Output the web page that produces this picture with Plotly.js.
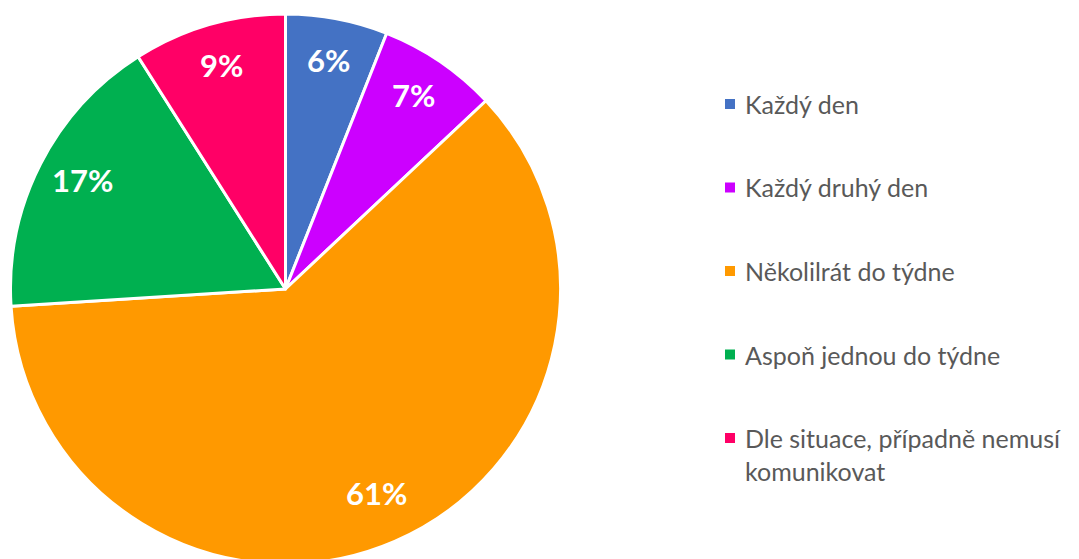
<!DOCTYPE html>
<html>
<head>
<meta charset="utf-8">
<script src="https://cdn.plot.ly/plotly-3.0.1.min.js"></script>
<style>html,body{margin:0;padding:0;background:#fff;overflow:hidden;}#chart{width:1079px;height:564px;}</style>
</head>
<body>
<div id="chart"></div>
<script>
const categories = ["Každý den", "Každý druhý den", "Několilrát do týdne", "Aspoň jednou do týdne", "Dle situace, případně nemusí<br>komunikovat"];
const values = [6, 7, 61, 17, 9];
const colors = ["#4472C4", "#CC00FF", "#FF9900", "#00B050", "#FF0066"];

const W = 1079, H = 564;
const pieTop = 14, pieD = H - pieTop, pieCx = 285.5;
const domX = [(pieCx - pieD / 2) / W, (pieCx + pieD / 2) / W];
const domY = [0, 1 - pieTop / H];
const cx = pieCx, cy = pieTop + pieD / 2;
const R = pieD / 2;

const total = values.reduce((a, b) => a + b, 0);
const annotations = [];
const shapes = [];
let cum = 0;
values.forEach((v, i) => {
  const mid = (cum + v / 2) / total * 2 * Math.PI;
  cum += v;
  const r = R * 0.83;
  const px = cx + r * Math.sin(mid);
  const py = cy - r * Math.cos(mid) - 5;
  annotations.push({
    x: px / W, y: 1 - py / H, xref: "paper", yref: "paper",
    text: "<b>" + Math.round(v / total * 100) + "%</b>", showarrow: false,
    font: {family: "Lato, sans-serif", size: 31, color: "#ffffff"},
    xanchor: "center", yanchor: "middle"
  });
});

// legend
const legTop = 104, legStep = 83.5;
categories.forEach((c, i) => {
  const yc = legTop + i * legStep;
  shapes.push({
    type: "rect", xref: "paper", yref: "paper",
    x0: 725 / W, x1: 735 / W, y0: 1 - (yc + 5) / H, y1: 1 - (yc - 5) / H,
    fillcolor: colors[i], line: {width: 0}
  });
  annotations.push({
    x: 743 / W, y: 1 - (yc - 17) / H, xref: "paper", yref: "paper",
    text: c, showarrow: false, align: "left",
    font: {family: "Lato, sans-serif", size: 25, color: "#595959"},
    xanchor: "left", yanchor: "top"
  });
});

const data = [{
  type: "pie",
  values: values,
  labels: categories,
  sort: false,
  direction: "clockwise",
  rotation: 0,
  textinfo: "none",
  hoverinfo: "label+percent",
  marker: {colors: colors, line: {color: "#ffffff", width: 3}},
  domain: {x: domX, y: domY},
  showlegend: false
}];

const layout = {
  width: W, height: H,
  margin: {l: 0, r: 0, t: 0, b: 0},
  paper_bgcolor: "#ffffff",
  showlegend: false,
  annotations: annotations,
  shapes: shapes
};

Plotly.newPlot("chart", data, layout, {displayModeBar: false, staticPlot: true});
</script>
</body>
</html>
